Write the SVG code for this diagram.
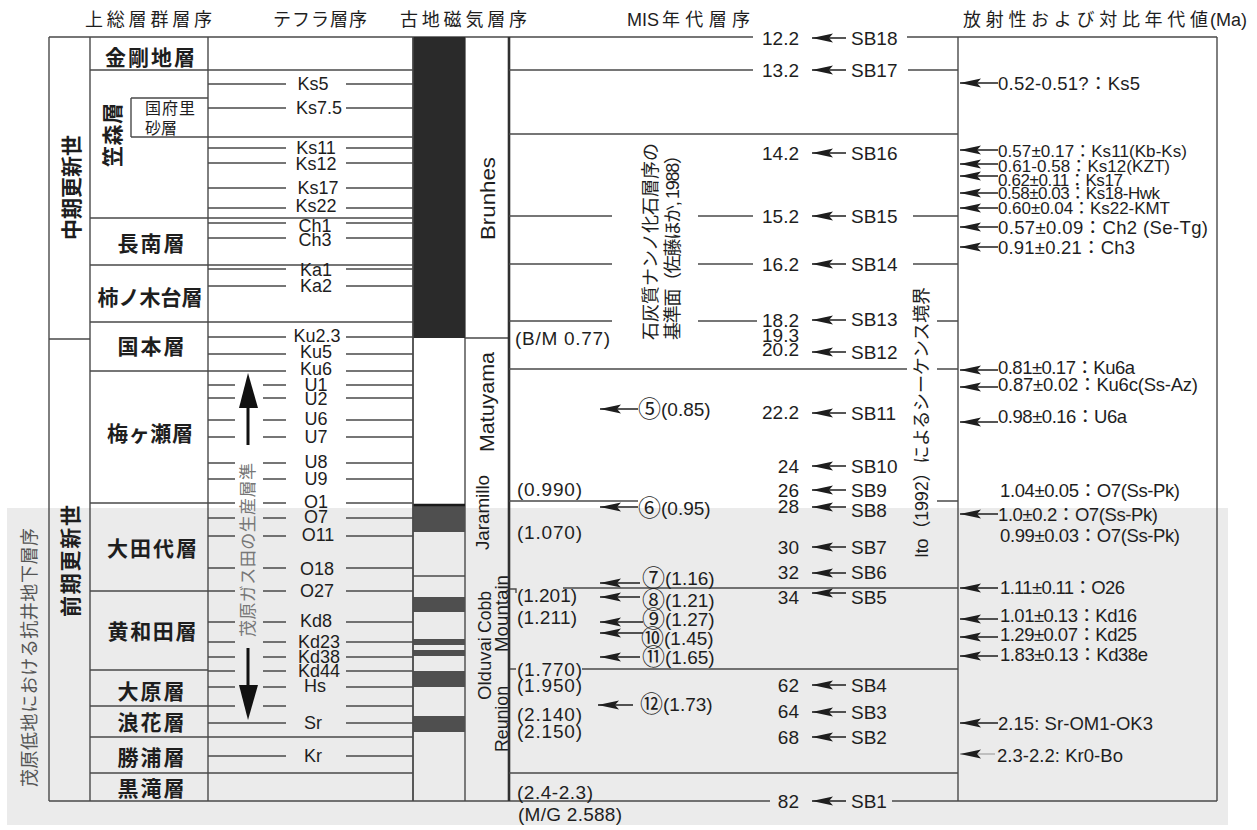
<svg xmlns="http://www.w3.org/2000/svg" width="1257" height="830" viewBox="0 0 1257 830">
<defs>
<style>
.ln{stroke:#4a4a4a;stroke-width:1.4;fill:none}
.tk{stroke:#303030;stroke-width:2.6;fill:none}
text{font-family:"Liberation Sans","Noto Sans CJK JP",sans-serif;fill:#1e1e1e;dominant-baseline:central}
.hd{font-size:18px}
.fm{font-family:"Noto Sans CJK JP",sans-serif;font-size:21px;font-weight:bold;text-anchor:middle}
.er{font-family:"Noto Sans CJK JP",sans-serif;font-size:21px;font-weight:bold}
.tp{font-size:18px;text-anchor:middle}
.ms{font-size:19px}
.num{font-size:19px;text-anchor:end}
.rb{font-size:17px}
.rl{font-size:18.5px}
.pv{font-size:21px}
.ps{font-size:18px}
.cd{font-size:23px}
.ar{stroke:#1e1e1e;stroke-width:1.6;fill:none;marker-end:url(#ah)}
.band{fill:#4f4f4f}
</style>
<marker id="ah" markerUnits="userSpaceOnUse" markerWidth="22" markerHeight="10" refX="21" refY="5" orient="auto">
<path d="M0,0.5 L21,5 L0,9.5 L4,5 z" fill="#1e1e1e"/>
</marker>
</defs>
<rect width="1257" height="830" fill="#ffffff"/>
<rect x="7" y="508" width="1221" height="317" fill="#ebebeb"/>

<g id="headers">
<text class="hd" x="85" y="20" textLength="127" lengthAdjust="spacing">上総層群層序</text>
<text class="hd" x="273" y="20" textLength="94" lengthAdjust="spacing">テフラ層序</text>
<text class="hd" x="400" y="20" textLength="127" lengthAdjust="spacing">古地磁気層序</text>
<text class="hd" x="627" y="20">MIS</text>
<text class="hd" x="662" y="20" textLength="88" lengthAdjust="spacing">年代層序</text>
<text class="hd" x="963" y="20" textLength="245" lengthAdjust="spacing">放射性および対比年代値</text>
<text class="hd" x="1210" y="20">(Ma)</text>
</g>

<g id="frame">
<path class="ln" d="M49,37V801 M90,37V801 M208,37V801 M413,37V801 M465,37V801 M958,37V801 M1217,37V801"/>
<path class="ln" d="M49,37H753 M907,37H1217 M49,801H770 M892,801H1217 M49,339H90 M465,338H509"/>
</g>

<g id="paleomag">
<rect x="413" y="37" width="52" height="301" fill="#2a2a2a"/>
<rect x="413" y="504" width="52" height="28" class="band"/>
<path d="M413,505H465" stroke="#1a1a1a" stroke-width="2.5"/>
<path class="ln" d="M413,576H465"/>
<rect x="413" y="597" width="52" height="15" class="band"/>
<rect x="413" y="639" width="52" height="6" class="band"/>
<rect x="413" y="650" width="52" height="6" class="band"/>
<rect x="413" y="671" width="52" height="16" class="band"/>
<rect x="413" y="716" width="52" height="16" class="band"/>
<path class="ln" d="M413,37V801"/>
<text class="pv" transform="translate(487,240) rotate(-90)" textLength="83" lengthAdjust="spacingAndGlyphs">Brunhes</text>
<text class="pv" transform="translate(486,452) rotate(-90)" textLength="100" lengthAdjust="spacingAndGlyphs">Matuyama</text>
<text class="ps" transform="translate(483,550) rotate(-90)" textLength="75" lengthAdjust="spacingAndGlyphs">Jaramillo</text>
<text class="ps" transform="translate(485,633) rotate(-90)" textLength="42" lengthAdjust="spacingAndGlyphs">Cobb</text>
<text class="ps" transform="translate(502,652) rotate(-90)" textLength="77" lengthAdjust="spacingAndGlyphs">Mountain</text>
<text class="ps" transform="translate(485,700) rotate(-90)" textLength="63" lengthAdjust="spacingAndGlyphs">Olduvai</text>
<text class="ps" transform="translate(502,752) rotate(-90)" textLength="66" lengthAdjust="spacingAndGlyphs">Reunion</text>
</g>

<g id="era">
<text class="er" transform="translate(70,240) rotate(-90)" textLength="105" lengthAdjust="spacing">中期更新世</text>
<text class="er" transform="translate(69,617) rotate(-90)" textLength="112" lengthAdjust="spacing">前期更新世</text>
<text transform="translate(30,787) rotate(-90)" font-size="18" style="fill:#555" textLength="259" lengthAdjust="spacing">茂原低地における抗井地下層序</text>
</g>

<g id="formations">
<path class="ln" d="M90,70H413 M90,218H413 M90,265H413 M90,322H413 M90,371H208 M90,503H208 M90,591H208 M90,670H208 M90,706H208 M90,737H413 M90,773H413"/>
<path class="ln" d="M131,98H208 M131,98V137 M131,137H413"/>
<text class="fm" x="150" y="56" textLength="90" lengthAdjust="spacing">金剛地層</text>
<text class="er" transform="translate(111,167) rotate(-90)" textLength="64" lengthAdjust="spacing">笠森層</text>
<text x="145" y="108" font-size="16" textLength="50" lengthAdjust="spacing">国府里</text>
<text x="145" y="128" font-size="16" textLength="32" lengthAdjust="spacing">砂層</text>
<text class="fm" x="151" y="242" textLength="67" lengthAdjust="spacing">長南層</text>
<text class="fm" x="150" y="296" textLength="105" lengthAdjust="spacing">柿ノ木台層</text>
<text class="fm" x="151" y="345" textLength="67" lengthAdjust="spacing">国本層</text>
<text class="fm" x="150" y="432" textLength="86" lengthAdjust="spacing">梅ヶ瀬層</text>
<text class="fm" x="152" y="547" textLength="90" lengthAdjust="spacing">大田代層</text>
<text class="fm" x="152" y="630" textLength="89" lengthAdjust="spacing">黄和田層</text>
<text class="fm" x="151" y="690" textLength="67" lengthAdjust="spacing">大原層</text>
<text class="fm" x="151" y="721" textLength="67" lengthAdjust="spacing">浪花層</text>
<text class="fm" x="151" y="756" textLength="67" lengthAdjust="spacing">勝浦層</text>
<text class="fm" x="151" y="787" textLength="67" lengthAdjust="spacing">黒滝層</text>
</g>

<g id="tephra">
<path class="ln" d="M208,84H286 M346,84H413 M208,108H286 M346,108H413 M208,148H286 M346,148H413 M208,163H286 M346,163H413 M208,188H286 M346,188H413 M208,208H286 M346,208H413 M208,223H286 M346,223H413 M208,238H286 M346,238H413 M208,269H286 M346,269H413 M208,286H286 M346,286H413 M208,337H286 M346,337H413 M208,354H286 M346,354H413 M208,371H286 M346,371H413 M208,723H286 M346,723H413 M208,756H286 M346,756H413"/>
<path class="ln" d="M208,385H235 M263,385H286 M346,385H413 M208,398H235 M263,398H286 M346,398H413 M208,420H235 M263,420H286 M346,420H413 M208,437H235 M263,437H286 M346,437H413 M208,463H235 M263,463H286 M346,463H413 M208,479H235 M263,479H286 M346,479H413 M208,503H235 M263,503H286 M346,503H413 M208,518H235 M263,518H286 M346,518H413 M208,536H235 M263,536H286 M346,536H413 M208,568H235 M263,568H286 M346,568H413 M208,591H235 M263,591H286 M346,591H413 M208,622H235 M263,622H286 M346,622H413 M208,642H235 M263,642H286 M346,642H413 M208,657H235 M263,657H286 M346,657H413 M208,671H235 M263,671H286 M346,671H413 M208,687H235 M263,687H286 M346,687H413 M208,706H235 M263,706H286 M346,706H413"/>
<text class="tp" x="313" y="84">Ks5</text>
<text class="tp" x="319" y="108">Ks7.5</text>
<text class="tp" x="316" y="148">Ks11</text>
<text class="tp" x="316" y="164">Ks12</text>
<text class="tp" x="318" y="188">Ks17</text>
<text class="tp" x="316" y="206">Ks22</text>
<text class="tp" x="315" y="226">Ch1</text>
<text class="tp" x="315" y="240">Ch3</text>
<text class="tp" x="316" y="270">Ka1</text>
<text class="tp" x="316" y="286">Ka2</text>
<text class="tp" x="317" y="336">Ku2.3</text>
<text class="tp" x="316" y="352">Ku5</text>
<text class="tp" x="316" y="369">Ku6</text>
<text class="tp" x="316" y="385">U1</text>
<text class="tp" x="316" y="399">U2</text>
<text class="tp" x="316" y="419">U6</text>
<text class="tp" x="316" y="437">U7</text>
<text class="tp" x="316" y="462">U8</text>
<text class="tp" x="316" y="479">U9</text>
<text class="tp" x="316" y="502">O1</text>
<text class="tp" x="316" y="517">O7</text>
<text class="tp" x="318" y="535">O11</text>
<text class="tp" x="317" y="569">O18</text>
<text class="tp" x="317" y="591">O27</text>
<text class="tp" x="316" y="621">Kd8</text>
<text class="tp" x="319" y="642">Kd23</text>
<text class="tp" x="319" y="657">Kd38</text>
<text class="tp" x="319" y="671">Kd44</text>
<text class="tp" x="315" y="686">Hs</text>
<text class="tp" x="313" y="723">Sr</text>
<text class="tp" x="313" y="756">Kr</text>
<rect x="246.5" y="405" width="3" height="40" fill="#111"/>
<polygon points="248,373 239,408 258,408" fill="#111"/>
<rect x="246.5" y="648" width="3" height="40" fill="#111"/>
<polygon points="248,720 239,685 258,685" fill="#111"/>
<text transform="translate(248,637) rotate(-90)" font-size="17" style="fill:#777" textLength="174" lengthAdjust="spacing">茂原ガス田の生産層準</text>
</g>

<g id="mis">
<path class="tk" d="M509,37V801"/>
<path class="ln" d="M509,70H753 M908,70H958 M509,134H958 M509,216H612 M698,216H753 M913,216H958 M509,264H612 M698,264H753 M913,264H958 M509,321H612 M698,321H757 M937,321H958 M509,369H907 M937,369H958 M509,501H638 M937,501H958 M563,588H958 M582,669H958 M509,773H958 M510,589H516V593 M510,669H516"/>
<text transform="translate(651,340) rotate(-90)" font-size="18" textLength="197" lengthAdjust="spacing">石灰質ナンノ化石層序の</text>
<text transform="translate(673,340) rotate(-90)" font-size="18" textLength="194" lengthAdjust="spacing">基準面（佐藤ほか, 1988）</text>
<text transform="translate(922,558) rotate(-90)" font-size="18" textLength="271" lengthAdjust="spacing">Ito（1992）によるシーケンス境界</text>
<text class="num" x="799" y="38">12.2</text><text class="ms" x="851" y="38">SB18</text>
<text class="num" x="799" y="70">13.2</text><text class="ms" x="851" y="70">SB17</text>
<text class="num" x="799" y="153">14.2</text><text class="ms" x="851" y="153">SB16</text>
<text class="num" x="799" y="216">15.2</text><text class="ms" x="851" y="216">SB15</text>
<text class="num" x="799" y="264">16.2</text><text class="ms" x="851" y="264">SB14</text>
<text class="num" x="799" y="320">18.2</text><text class="ms" x="851" y="319">SB13</text>
<text class="num" x="799" y="335">19.3</text>
<text class="num" x="799" y="349">20.2</text><text class="ms" x="851" y="352">SB12</text>
<text class="num" x="799" y="412">22.2</text><text class="ms" x="851" y="413">SB11</text>
<text class="num" x="799" y="466">24</text><text class="ms" x="851" y="466">SB10</text>
<text class="num" x="799" y="490">26</text><text class="ms" x="851" y="490">SB9</text>
<text class="num" x="799" y="506">28</text><text class="ms" x="851" y="510">SB8</text>
<text class="num" x="799" y="547">30</text><text class="ms" x="851" y="547">SB7</text>
<text class="num" x="799" y="572">32</text><text class="ms" x="851" y="572">SB6</text>
<text class="num" x="799" y="597">34</text><text class="ms" x="851" y="597">SB5</text>
<text class="num" x="799" y="685">62</text><text class="ms" x="851" y="685">SB4</text>
<text class="num" x="799" y="711">64</text><text class="ms" x="851" y="712">SB3</text>
<text class="num" x="799" y="737">68</text><text class="ms" x="851" y="737">SB2</text>
<text class="num" x="799" y="801">82</text><text class="ms" x="851" y="801">SB1</text>
<text class="ms" x="515" y="338" textLength="95" lengthAdjust="spacing">(B/M 0.77)</text>
<text class="ms" x="517" y="489" textLength="65" lengthAdjust="spacing">(0.990)</text>
<text class="ms" x="517" y="532" textLength="65" lengthAdjust="spacing">(1.070)</text>
<text class="ms" x="517" y="595" textLength="60" lengthAdjust="spacing">(1.201)</text>
<text class="ms" x="517" y="617" textLength="60" lengthAdjust="spacing">(1.211)</text>
<text class="ms" x="517" y="669" textLength="65" lengthAdjust="spacing">(1.770)</text>
<text class="ms" x="517" y="685" textLength="65" lengthAdjust="spacing">(1.950)</text>
<text class="ms" x="517" y="714" textLength="65" lengthAdjust="spacing">(2.140)</text>
<text class="ms" x="517" y="731" textLength="65" lengthAdjust="spacing">(2.150)</text>
<text class="ms" x="517" y="792" textLength="76" lengthAdjust="spacing">(2.4-2.3)</text>
<text class="ms" x="518" y="814" textLength="104" lengthAdjust="spacing">(M/G 2.588)</text>
<text class="ms" x="638" y="409"><tspan class="cd">⑤</tspan>(0.85)</text>
<text class="ms" x="638" y="508"><tspan class="cd">⑥</tspan>(0.95)</text>
<text class="ms" x="642" y="578"><tspan class="cd">⑦</tspan>(1.16)</text>
<text class="ms" x="642" y="600"><tspan class="cd">⑧</tspan>(1.21)</text>
<text class="ms" x="642" y="619"><tspan class="cd">⑨</tspan>(1.27)</text>
<text class="ms" x="641" y="638"><tspan class="cd">⑩</tspan>(1.45)</text>
<text class="ms" x="642" y="657"><tspan class="cd">⑪</tspan>(1.65)</text>
<text class="ms" x="640" y="704"><tspan class="cd">⑫</tspan>(1.73)</text>
</g>

<g id="radiometric">
<text class="rl" x="998" y="83" textLength="142" lengthAdjust="spacing">0.52-0.51?：Ks5</text>
<text class="rb" x="998" y="151" textLength="189" lengthAdjust="spacing">0.57±0.17：Ks11(Kb-Ks)</text>
<text class="rb" x="998" y="166" textLength="172" lengthAdjust="spacing">0.61-0.58：Ks12(KZT)</text>
<text class="rb" x="998" y="180" textLength="125" lengthAdjust="spacing">0.62±0.11：Ks17</text>
<text class="rb" x="998" y="193" textLength="162" lengthAdjust="spacing">0.58±0.03：Ks18-Hwk</text>
<text class="rb" x="998" y="208" textLength="172" lengthAdjust="spacing">0.60±0.04：Ks22-KMT</text>
<text class="rl" x="998" y="227" textLength="210" lengthAdjust="spacing">0.57±0.09：Ch2 (Se-Tg)</text>
<text class="rl" x="998" y="247" textLength="137" lengthAdjust="spacing">0.91±0.21：Ch3</text>
<text class="rl" x="998" y="367" textLength="137" lengthAdjust="spacing">0.81±0.17：Ku6a</text>
<text class="rl" x="998" y="384" textLength="200" lengthAdjust="spacing">0.87±0.02：Ku6c(Ss-Az)</text>
<text class="rl" x="998" y="416" textLength="129" lengthAdjust="spacing">0.98±0.16：U6a</text>
<text class="rl" x="1000" y="490" textLength="180" lengthAdjust="spacing">1.04±0.05：O7(Ss-Pk)</text>
<text class="rl" x="998" y="514" textLength="160" lengthAdjust="spacing">1.0±0.2：O7(Ss-Pk)</text>
<text class="rl" x="1000" y="535" textLength="180" lengthAdjust="spacing">0.99±0.03：O7(Ss-Pk)</text>
<text class="rl" x="1000" y="587" textLength="125" lengthAdjust="spacing">1.11±0.11：O26</text>
<text class="rl" x="1000" y="615" textLength="137" lengthAdjust="spacing">1.01±0.13：Kd16</text>
<text class="rl" x="1000" y="634" textLength="137" lengthAdjust="spacing">1.29±0.07：Kd25</text>
<text class="rl" x="1000" y="654" textLength="148" lengthAdjust="spacing">1.83±0.13：Kd38e</text>
<text class="rl" x="998" y="723" textLength="155" lengthAdjust="spacing">2.15: Sr-OM1-OK3</text>
<text class="rl" x="997" y="755" textLength="126" lengthAdjust="spacing">2.3-2.2: Kr0-Bo</text>
</g>

<g id="connectors">
<path class="ar" d="M846,38H812"/>
<path class="ar" d="M846,70H812"/>
<path class="ar" d="M846,153H812"/>
<path class="ar" d="M846,216H812"/>
<path class="ar" d="M846,264H812"/>
<path class="ar" d="M846,320H812"/>
<path class="ar" d="M846,352H812"/>
<path class="ar" d="M846,413H812"/>
<path class="ar" d="M846,466H812"/>
<path class="ar" d="M846,490H812"/>
<path class="ar" d="M846,507H812"/>
<path class="ar" d="M846,547H812"/>
<path class="ar" d="M846,573H812"/>
<path class="ar" d="M846,593H812"/>
<path class="ar" d="M846,685H812"/>
<path class="ar" d="M846,712H812"/>
<path class="ar" d="M846,737H812"/>
<path class="ar" d="M846,801H812"/>
<path class="ar" d="M638,409H600"/>
<path class="ar" d="M638,507H600"/>
<path class="ar" d="M640,583H600"/>
<path class="ar" d="M640,597H600"/>
<path class="ar" d="M643,622H600"/>
<path class="ar" d="M643,633H600"/>
<path class="ar" d="M640,657H600"/>
<path class="ar" d="M633,705H598"/>
<path class="ar" d="M998,83H960"/>
<path class="ar" d="M998,150H960"/>
<path class="ar" d="M998,164H960"/>
<path class="ar" d="M998,176H960"/>
<path class="ar" d="M998,193H960"/>
<path class="ar" d="M998,208H960"/>
<path class="ar" d="M998,227H960"/>
<path class="ar" d="M998,247H960"/>
<path class="ar" d="M998,370H960"/>
<path class="ar" d="M998,387H960"/>
<path class="ar" d="M998,422H960"/>
<path class="ar" d="M998,514H960"/>
<path class="ar" d="M998,588H960"/>
<path class="ar" d="M998,619H960"/>
<path class="ar" d="M998,637H960"/>
<path class="ar" d="M998,656H960"/>
<path class="ar" d="M998,723H960"/>
<path class="ar" d="M995,754H960" style="stroke:#b0b0b0"/>
</g>
</svg>
